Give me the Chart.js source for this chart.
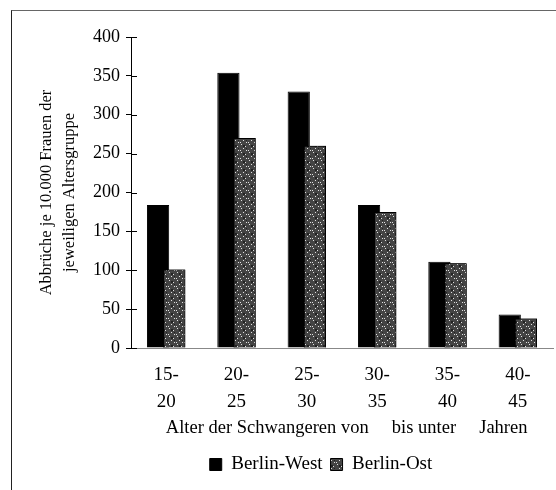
<!DOCTYPE html>
<html>
<head>
<meta charset="utf-8">
<script src="https://cdn.jsdelivr.net/npm/chart.js@4/dist/chart.umd.min.js"></script>
<style>
  body { margin: 0; background: #fff; }
  #wrap { position: relative; width: 556px; height: 490px; }
  #frame { position: absolute; left: 11px; top: 10px; width: 545px; height: 480px;
           border-left: 1px solid #222; border-top: 1px solid #666; }
  #chart { position: absolute; left: 0; top: 0; }
</style>
</head>
<body>
<div id="wrap">
  <div id="frame"></div>
  <canvas id="chart" width="556" height="490"></canvas>
</div>
<script>
var categories = [['15-', '20'], ['20-', '25'], ['25-', '30'], ['30-', '35'], ['35-', '40'], ['40-', '45']];
var berlinWest = [184, 354, 330, 184, 111, 43];
var berlinOst = [101, 270, 260, 175, 109, 38];
var yTicks = [0, 50, 100, 150, 200, 250, 300, 350, 400];

// speckled grey fill for Berlin-Ost
function speckle() {
    var c = document.createElement('canvas');
    c.width = 8; c.height = 8;
    var g = c.getContext('2d');
    g.fillStyle = '#444';
    g.fillRect(0, 0, 8, 8);
    g.fillStyle = '#e0e0e0';
    g.fillRect(1, 0, 1, 1);
    g.fillRect(5, 2, 1, 1);
    g.fillRect(3, 4, 1, 1);
    g.fillRect(0, 6, 1, 1);
    g.fillRect(6, 6, 1, 1);
    g.fillStyle = '#222';
    g.fillRect(3, 1, 2, 2);
    g.fillRect(6, 4, 1, 1);
    return g.createPattern(c, 'repeat');
}

// small tick parts inside the plot, so the y ticks cross the axis
var innerTicks = {
    id: 'innerTicks',
    afterDraw: function (chart) {
        var y = chart.scales.y;
        var ctx = chart.ctx;
        ctx.save();
        ctx.strokeStyle = '#000';
        ctx.lineWidth = 1;
        yTicks.forEach(function (v) {
            var py = Math.round(y.getPixelForValue(v)) + 0.5;
            ctx.beginPath();
            ctx.moveTo(y.right, py);
            ctx.lineTo(y.right + 6, py);
            ctx.stroke();
        });
        ctx.restore();
    }
};

// Berlin-Ost bars overlap the Berlin-West ones, so draw them once more on top
var ostOnTop = {
    id: 'ostOnTop',
    afterDatasetsDraw: function (chart) {
        chart.getDatasetMeta(1).controller.draw();
    }
};

// the legend sits a little right of centre and lower than the default
var legendShift = {
    id: 'legendShift',
    afterUpdate: function (chart) {
        var lg = chart.legend;
        lg.left += 27;
        lg.right += 27;
        lg.top += 8;
        lg.bottom += 8;
        lg.adjustHitBoxes();
    }
};

var serif = 'Liberation Serif';

var ctx = document.querySelector('#chart').getContext('2d');
var chart = new Chart(ctx, {
    type: 'bar',
    data: {
        labels: categories,
        datasets: [{
            label: 'Berlin-West',
            data: berlinWest,
            backgroundColor: '#000',
            borderColor: '#000',
            borderWidth: 1
        }, {
            label: 'Berlin-Ost',
            data: berlinOst,
            backgroundColor: speckle(),
            borderColor: '#000',
            borderWidth: 1
        }]
    },
    options: {
        responsive: false,
        animation: false,
        categoryPercentage: 0.46,
        barPercentage: 1.375,
        layout: { padding: { left: 35, top: 37, right: 3, bottom: 14 } },
        scales: {
            x: {
                afterFit: function (scale) { scale.height = 91; },
                grid: { display: false, drawTicks: false },
                border: { color: '#888', width: 1 },
                ticks: { color: '#000', font: { family: serif, size: 19, lineHeight: 1.4 }, padding: 14, maxRotation: 0 },
                title: {
                    display: true,
                    text: '  Alter der Schwangeren von     bis unter     Jahren',
                    color: '#000',
                    font: { family: serif, size: 18.5 },
                    padding: { top: 0, bottom: 0 }
                }
            },
            y: {
                min: 0,
                max: 400,
                afterBuildTicks: function (scale) {
                    scale.ticks = yTicks.map(function (v) { return { value: v }; });
                },
                afterFit: function (scale) { scale.width = 96; },
                grid: { drawOnChartArea: false, drawTicks: true, tickLength: 5, color: '#000' },
                border: { color: '#000', width: 1 },
                ticks: { color: '#000', font: { family: serif, size: 18 }, padding: 6 },
                title: {
                    display: true,
                    text: ['Abbrüche je 10.000 Frauen der', 'jeweiligen Altersgruppe'],
                    color: '#000',
                    font: { family: serif, size: 16.5, lineHeight: 1.4 },
                    padding: 0
                }
            }
        },
        plugins: {
            legend: {
                display: true,
                position: 'bottom',
                labels: {
                    color: '#000',
                    font: { family: serif, size: 19 },
                    boxWidth: 12,
                    boxHeight: 12,
                    padding: 8
                }
            },
            tooltip: { enabled: false }
        }
    },
    plugins: [innerTicks, ostOnTop, legendShift]
});
</script>
</body>
</html>
